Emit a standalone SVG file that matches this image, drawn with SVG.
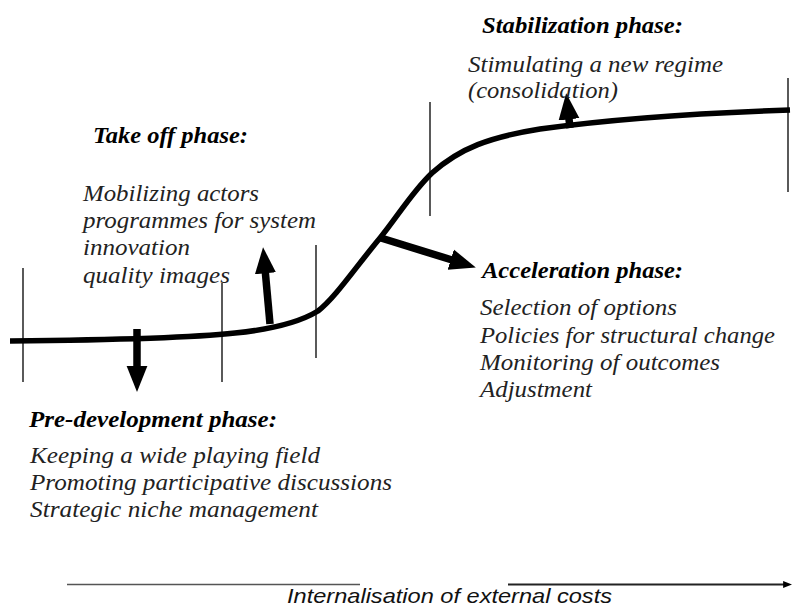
<svg xmlns="http://www.w3.org/2000/svg" width="793" height="607" viewBox="0 0 793 607">
<style>
  .t { font-style: italic; font-size: 24px; fill: #222; }
  .h { font-style: italic; font-weight: bold; font-size: 24px; fill: #000; }
  .ax { font-style: italic; font-size: 21px; fill: #111; }
  .tick { stroke: #000; stroke-width: 1.3; fill: none; }
  .curve { stroke: #000; stroke-width: 5.5; fill: none; stroke-linecap: butt; }
  .arr { stroke: #000; stroke-width: 7.5; fill: none; marker-end: url(#head); }
</style>
<defs>
  <marker id="head" viewBox="0 0 10 8" refX="0.5" refY="4" markerWidth="3.5" markerHeight="4.1" orient="auto" markerUnits="strokeWidth">
    <path d="M0,0 L10,4 L0,8 z" fill="#000"/>
  </marker>
  <marker id="axhead" viewBox="0 0 10 8" refX="1" refY="4" markerWidth="5" markerHeight="4.5" orient="auto" markerUnits="strokeWidth">
    <path d="M0,0 L10,4 L0,8 z" fill="#000"/>
  </marker>
</defs>
<rect width="793" height="607" fill="#fff"/>

<g id="ticks">
  <line class="tick" x1="23" y1="268" x2="23" y2="382"/>
  <line class="tick" x1="222" y1="283" x2="222" y2="382"/>
  <line class="tick" x1="316" y1="245" x2="316" y2="358"/>
  <line class="tick" x1="430" y1="102" x2="430" y2="216"/>
  <line class="tick" x1="788" y1="78" x2="788" y2="192"/>
</g>

<g id="s-curve">
  <path class="curve" d="M10,341 C110,340 190,338 235,333 C275,329 300,322 318,311 C335,298 355,268 380,238 C398,216 412,192 432,173 C460,148 490,137 540,129 C620,118 700,113 790,110"/>
</g>

<g id="connectors">
  <line class="arr" x1="137" y1="329" x2="137" y2="367"/>
  <line class="arr" x1="270" y1="324" x2="265.3" y2="272"/>
  <line class="arr" x1="381" y1="238" x2="452" y2="260"/>
  <line class="arr" x1="570" y1="128" x2="568.9" y2="118"/>
</g>

<g id="stabilization" font-family="Liberation Serif">
  <text class="h" x="482" y="33" textLength="201" lengthAdjust="spacingAndGlyphs">Stabilization phase:</text>
  <text class="t" x="468" y="72" textLength="255" lengthAdjust="spacingAndGlyphs">Stimulating a new regime</text>
  <text class="t" x="468" y="98" textLength="150" lengthAdjust="spacingAndGlyphs">(consolidation)</text>
</g>

<g id="takeoff" font-family="Liberation Serif">
  <text class="h" x="93" y="143" textLength="155" lengthAdjust="spacingAndGlyphs">Take off phase:</text>
  <text class="t" x="83" y="201" textLength="176" lengthAdjust="spacingAndGlyphs">Mobilizing actors</text>
  <text class="t" x="83" y="228" textLength="233" lengthAdjust="spacingAndGlyphs">programmes for system</text>
  <text class="t" x="83" y="255" textLength="107" lengthAdjust="spacingAndGlyphs">innovation</text>
  <text class="t" x="83" y="283" textLength="147" lengthAdjust="spacingAndGlyphs">quality images</text>
</g>

<g id="acceleration" font-family="Liberation Serif">
  <text class="h" x="482" y="278" textLength="201" lengthAdjust="spacingAndGlyphs">Acceleration phase:</text>
  <text class="t" x="480" y="315" textLength="197" lengthAdjust="spacingAndGlyphs">Selection of options</text>
  <text class="t" x="480" y="343" textLength="295" lengthAdjust="spacingAndGlyphs">Policies for structural change</text>
  <text class="t" x="480" y="370" textLength="240" lengthAdjust="spacingAndGlyphs">Monitoring of outcomes</text>
  <text class="t" x="480" y="397" textLength="112" lengthAdjust="spacingAndGlyphs">Adjustment</text>
</g>

<g id="predevelopment" font-family="Liberation Serif">
  <text class="h" x="29" y="427" textLength="248" lengthAdjust="spacingAndGlyphs">Pre-development phase:</text>
  <text class="t" x="30" y="463" textLength="290" lengthAdjust="spacingAndGlyphs">Keeping a wide playing field</text>
  <text class="t" x="30" y="490" textLength="362" lengthAdjust="spacingAndGlyphs">Promoting participative discussions</text>
  <text class="t" x="30" y="517" textLength="288" lengthAdjust="spacingAndGlyphs">Strategic niche management</text>
</g>

<g id="axis" font-family="Liberation Sans">
  <line x1="67" y1="584.5" x2="360" y2="584.5" stroke="#555" stroke-width="1.6"/>
  <line x1="508" y1="584.5" x2="784" y2="584.5" stroke="#222" stroke-width="1.8" marker-end="url(#axhead)"/>
  <text class="ax" x="287" y="603" textLength="325" lengthAdjust="spacingAndGlyphs">Internalisation of external costs</text>
</g>
</svg>
